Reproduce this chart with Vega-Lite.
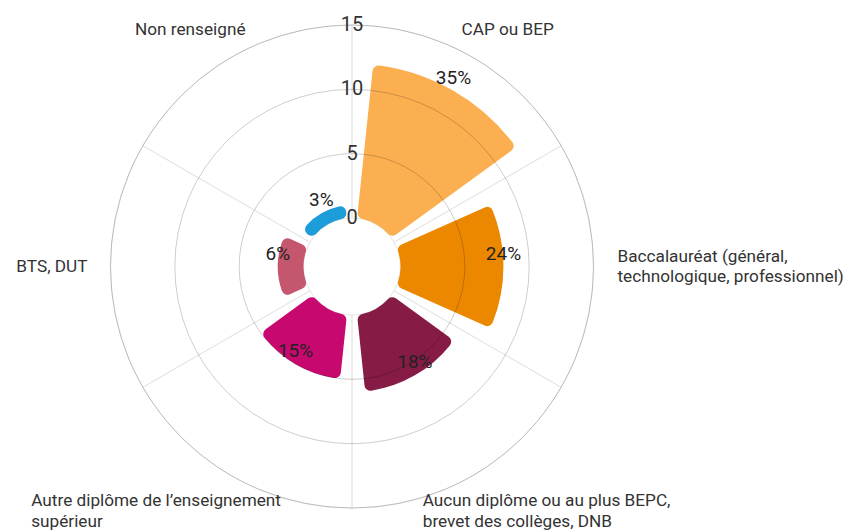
{
  "$schema": "https://vega.github.io/schema/vega-lite/v6.json",
  "width": 704,
  "height": 533,
  "autosize": {"type": "none"},
  "padding": {"left": 0, "top": 0, "right": 143, "bottom": 0},
  "background": "white",
  "config": {"view": {"stroke": null}, "font": "Roboto", "text": {"font": "Roboto"}},
  "datasets": {
    "edu": [
      {"name": "CAP ou BEP", "label": "CAP ou BEP", "count": 12, "pct": "35%"},
      {"name": "Baccalauréat", "label": "Baccalauréat (général,\ntechnologique, professionnel)", "count": 8, "pct": "24%"},
      {"name": "Aucun diplôme", "label": "Aucun diplôme ou au plus BEPC,\nbrevet des collèges, DNB", "count": 6, "pct": "18%"},
      {"name": "Autre diplôme", "label": "Autre diplôme de l’enseignement\nsupérieur", "count": 5, "pct": "15%"},
      {"name": "BTS, DUT", "label": "BTS, DUT", "count": 2, "pct": "6%"},
      {"name": "Non renseigné", "label": "Non renseigné", "count": 1, "pct": "3%"}
    ],
    "ticks": [{"v": 0}, {"v": 5}, {"v": 10}, {"v": 15}]
  },
  "resolve": {"scale": {"theta": "independent"}},
  "layer": [
    {
      "data": {"name": "edu"},
      "mark": {"type": "arc", "filled": false, "stroke": "#e6e6e6", "strokeWidth": 1},
      "encoding": {
        "theta": {"field": "name", "type": "nominal", "sort": null, "scale": {"type": "band", "domain": ["CAP ou BEP", "Baccalauréat", "Aucun diplôme", "Autre diplôme", "BTS, DUT", "Non renseigné"], "range": [0, 6.283185307179586], "paddingInner": 0, "paddingOuter": 0}},
        "radius": {"datum": 15, "type": "quantitative", "scale": {"type": "linear", "domain": [0, 15], "range": [48.5, 241.5], "zero": true, "nice": false}},
        "radius2": {"datum": 0}
      }
    },
    {
      "data": {"name": "edu"},
      "mark": {"type": "arc", "cornerRadius": 6},
      "encoding": {
        "theta": {"field": "name", "type": "nominal", "sort": null, "scale": {"type": "band", "domain": ["CAP ou BEP", "Baccalauréat", "Aucun diplôme", "Autre diplôme", "BTS, DUT", "Non renseigné"], "range": [0, 6.283185307179586], "paddingInner": 0.2, "paddingOuter": 0.1}},
        "radius": {"field": "count", "type": "quantitative", "scale": {"type": "linear", "domain": [0, 15], "range": [48.5, 241.5], "zero": true, "nice": false}},
        "color": {"field": "name", "type": "nominal", "legend": null, "scale": {"domain": ["CAP ou BEP", "Baccalauréat", "Aucun diplôme", "Autre diplôme", "BTS, DUT", "Non renseigné"], "range": ["#fbaf50", "#ec8800", "#861c46", "#c7086f", "#c4566d", "#1c9dd9"]}}
      }
    },
    {
      "data": {"name": "ticks"},
      "transform": [{"filter": "datum.v > 0"}],
      "mark": {"type": "arc", "filled": false, "stroke": "#000", "strokeOpacity": 0.1, "strokeWidth": 1, "theta": 0, "theta2": 6.283185307179586},
      "encoding": {
        "radius": {"field": "v", "type": "quantitative", "scale": {"type": "linear", "domain": [0, 15], "range": [48.5, 241.5], "zero": true, "nice": false}},
        "radius2": {"field": "v"}
      }
    },
    {
      "data": {"name": "ticks"},
      "mark": {"type": "text", "theta": 0, "fontSize": 20, "color": "#333", "align": "center", "baseline": "middle"},
      "encoding": {
        "radius": {"field": "v", "type": "quantitative", "scale": {"type": "linear", "domain": [0, 15], "range": [48.5, 241.5], "zero": true, "nice": false}},
        "text": {"field": "v", "type": "quantitative"}
      }
    },
    {
      "data": {"name": "edu"},
      "mark": {"type": "text", "fontSize": 19, "color": "#222", "align": "center", "baseline": "middle", "dy": -13},
      "encoding": {
        "theta": {"field": "name", "type": "nominal", "sort": null, "scale": {"type": "band", "domain": ["CAP ou BEP", "Baccalauréat", "Aucun diplôme", "Autre diplôme", "BTS, DUT", "Non renseigné"], "range": [0, 6.283185307179586], "paddingInner": 0, "paddingOuter": 0}},
        "radius": {"field": "count", "type": "quantitative", "scale": {"type": "linear", "domain": [0, 15], "range": [48.5, 241.5], "zero": true, "nice": false}},
        "text": {"field": "pct", "type": "nominal"}
      }
    },
    {
      "data": {"name": "edu"},
      "transform": [{"filter": "datum.name === 'CAP ou BEP'"}],
      "mark": {"type": "text", "fontSize": 17.2, "color": "#333", "align": "center", "baseline": "middle", "dx": 35, "dy": -27},
      "encoding": {
        "theta": {"field": "name", "type": "nominal", "sort": null, "scale": {"type": "band", "domain": ["CAP ou BEP", "Baccalauréat", "Aucun diplôme", "Autre diplôme", "BTS, DUT", "Non renseigné"], "range": [0, 6.283185307179586], "paddingInner": 0, "paddingOuter": 0}},
        "radius": {"datum": 15, "type": "quantitative", "scale": {"type": "linear", "domain": [0, 15], "range": [48.5, 241.5], "zero": true, "nice": false}},
        "text": {"field": "label", "type": "nominal"}
      }
    },
    {
      "data": {"name": "edu"},
      "transform": [{"filter": "datum.name === 'Non renseigné'"}],
      "mark": {"type": "text", "fontSize": 17.2, "color": "#333", "align": "center", "baseline": "middle", "dx": -41, "dy": -27},
      "encoding": {
        "theta": {"field": "name", "type": "nominal", "sort": null, "scale": {"type": "band", "domain": ["CAP ou BEP", "Baccalauréat", "Aucun diplôme", "Autre diplôme", "BTS, DUT", "Non renseigné"], "range": [0, 6.283185307179586], "paddingInner": 0, "paddingOuter": 0}},
        "radius": {"datum": 15, "type": "quantitative", "scale": {"type": "linear", "domain": [0, 15], "range": [48.5, 241.5], "zero": true, "nice": false}},
        "text": {"field": "label", "type": "nominal"}
      }
    },
    {
      "data": {"name": "edu"},
      "transform": [{"filter": "datum.name === 'Baccalauréat'"}],
      "mark": {"type": "text", "fontSize": 17.2, "color": "#333", "align": "left", "baseline": "middle", "lineBreak": "\n", "lineHeight": 20, "dx": 24, "dy": -10},
      "encoding": {
        "theta": {"field": "name", "type": "nominal", "sort": null, "scale": {"type": "band", "domain": ["CAP ou BEP", "Baccalauréat", "Aucun diplôme", "Autre diplôme", "BTS, DUT", "Non renseigné"], "range": [0, 6.283185307179586], "paddingInner": 0, "paddingOuter": 0}},
        "radius": {"datum": 15, "type": "quantitative", "scale": {"type": "linear", "domain": [0, 15], "range": [48.5, 241.5], "zero": true, "nice": false}},
        "text": {"field": "label", "type": "nominal"}
      }
    },
    {
      "data": {"name": "edu"},
      "transform": [{"filter": "datum.name === 'BTS, DUT'"}],
      "mark": {"type": "text", "fontSize": 17.2, "color": "#333", "align": "right", "baseline": "middle", "dx": -23, "dy": 0},
      "encoding": {
        "theta": {"field": "name", "type": "nominal", "sort": null, "scale": {"type": "band", "domain": ["CAP ou BEP", "Baccalauréat", "Aucun diplôme", "Autre diplôme", "BTS, DUT", "Non renseigné"], "range": [0, 6.283185307179586], "paddingInner": 0, "paddingOuter": 0}},
        "radius": {"datum": 15, "type": "quantitative", "scale": {"type": "linear", "domain": [0, 15], "range": [48.5, 241.5], "zero": true, "nice": false}},
        "text": {"field": "label", "type": "nominal"}
      }
    },
    {
      "data": {"name": "edu"},
      "transform": [{"filter": "datum.name === 'Aucun diplôme'"}],
      "mark": {"type": "text", "fontSize": 17.2, "color": "#333", "align": "left", "baseline": "middle", "lineBreak": "\n", "lineHeight": 21, "dx": -50, "dy": 25},
      "encoding": {
        "theta": {"field": "name", "type": "nominal", "sort": null, "scale": {"type": "band", "domain": ["CAP ou BEP", "Baccalauréat", "Aucun diplôme", "Autre diplôme", "BTS, DUT", "Non renseigné"], "range": [0, 6.283185307179586], "paddingInner": 0, "paddingOuter": 0}},
        "radius": {"datum": 15, "type": "quantitative", "scale": {"type": "linear", "domain": [0, 15], "range": [48.5, 241.5], "zero": true, "nice": false}},
        "text": {"field": "label", "type": "nominal"}
      }
    },
    {
      "data": {"name": "edu"},
      "transform": [{"filter": "datum.name === 'Autre diplôme'"}],
      "mark": {"type": "text", "fontSize": 17.2, "color": "#333", "align": "left", "baseline": "middle", "lineBreak": "\n", "lineHeight": 21, "dx": -200, "dy": 25},
      "encoding": {
        "theta": {"field": "name", "type": "nominal", "sort": null, "scale": {"type": "band", "domain": ["CAP ou BEP", "Baccalauréat", "Aucun diplôme", "Autre diplôme", "BTS, DUT", "Non renseigné"], "range": [0, 6.283185307179586], "paddingInner": 0, "paddingOuter": 0}},
        "radius": {"datum": 15, "type": "quantitative", "scale": {"type": "linear", "domain": [0, 15], "range": [48.5, 241.5], "zero": true, "nice": false}},
        "text": {"field": "label", "type": "nominal"}
      }
    }
  ]
}
